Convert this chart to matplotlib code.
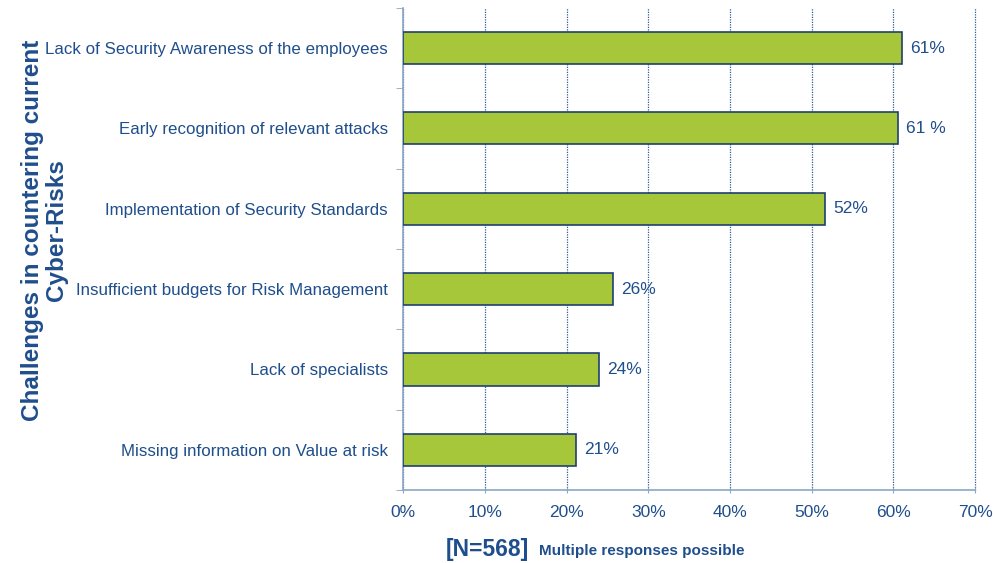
import matplotlib.pyplot as plt
import numpy as np

categories = ['Lack of Security Awareness of the employees',
              'Early recognition of relevant attacks',
              'Implementation of Security Standards',
              'Insufficient budgets for Risk Management',
              'Lack of specialists',
              'Missing information on Value at risk']
values = [61.1, 60.6, 51.6, 25.7, 24.0, 21.1]
value_labels = ['61%', '61 %', '52%', '26%', '24%', '21%']
xticks = [0, 10, 20, 30, 40, 50, 60, 70]

txt = '#1f4e8c'
axcol = '#8ca5c8'
plt.rcParams['font.family'] = ['Liberation Sans', 'DejaVu Sans']

fig = plt.figure(figsize=(9.93, 5.63), dpi=100)
ax = fig.add_axes([0.406, 0.1297, 0.576, 0.8563])

y = np.arange(len(categories))
ax.barh(y, values, height=0.4, color='#a5c739', edgecolor='#1f3f73', linewidth=1.2, zorder=3)
for yi, v, lab in zip(y, values, value_labels):
    ax.text(v + 1.0, yi, lab, va='center', ha='left', fontsize=12.5, color=txt)

ax.set_xlim(0, 70)
ax.set_ylim(len(categories) - 0.5, -0.5)
ax.set_xticks(xticks)
ax.set_xticklabels([f'{t}%' for t in xticks], fontsize=12.5, color=txt)
ax.set_yticks(y)
ax.set_yticklabels(categories, fontsize=12.2, color=txt)
ax.tick_params(axis='y', length=0, pad=11)
ax.set_yticks(np.arange(len(categories) + 1) - 0.5, minor=True)
ax.tick_params(axis='y', which='minor', length=5, color=axcol, direction='out')
ax.tick_params(axis='x', length=4, color=axcol, direction='inout', pad=9)
ax.xaxis.grid(True, linestyle=(0, (1, 1)), color='#2f5f98', linewidth=0.9, zorder=0)
for gl in ax.get_xgridlines():
    gl.set_clip_on(False)
for s in ['top', 'right']:
    ax.spines[s].set_visible(False)
for s in ['left', 'bottom']:
    ax.spines[s].set_color(axcol)
    ax.spines[s].set_linewidth(1.2)

fig.text(0.045, 0.591, 'Challenges in countering current\nCyber-Risks', rotation=90,
         ha='center', va='center', fontsize=17.5, fontweight='bold', color=txt,
         linespacing=1.05)
fig.text(0.449, 0.024, '[N=568]', fontsize=16.5, fontweight='bold', color=txt, va='center')
fig.text(0.543, 0.022, 'Multiple responses possible', fontsize=11, fontweight='bold',
         color=txt, va='center')

fig.savefig('out.png', dpi=100)
